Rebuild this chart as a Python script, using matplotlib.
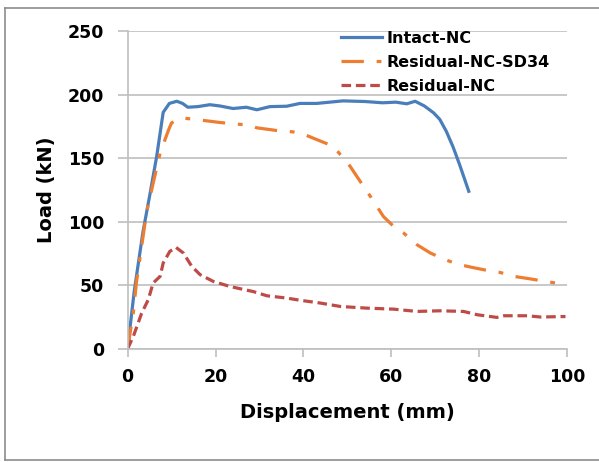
import matplotlib
matplotlib.use("Agg")
import matplotlib.pyplot as plt
from matplotlib.lines import Line2D

# load-displacement curves (mm, kN)
intact_x = [0, 1.5, 3.5, 5.0, 6.6, 8.1, 9.5, 11.2, 12.5, 13.7, 16, 18.7, 21, 24, 27, 29.4,
            32.4, 36.2, 39.2, 43, 49, 54, 58, 61, 63.5, 65.4, 67.5, 69.6, 71.0, 72.5,
            74.0, 75.5, 77.6]
intact_y = [0, 45, 92, 120, 151, 186, 193, 194.7, 193, 190, 190.5, 192, 191, 189, 190, 188,
            190.5, 190.8, 193, 193, 195, 194.5, 193.5, 194, 192.7, 194.7, 191, 185.6, 180.5, 171,
            159, 145, 123.9]

sd34_x = [0, 1.3, 2, 4.3, 5.8, 7.4, 9.3, 10, 12.3, 15.7, 21, 27.9, 29.4, 33.9, 37.7, 39.3,
          43, 46.8, 50.6, 52.9, 55.2, 58.2, 60.5, 62.8, 65.8, 68.9, 71.9, 74.9, 78, 81,
          84.8, 87.8, 91.6, 95, 98.4, 100]
sd34_y = [0, 28, 52, 107, 130, 154, 172, 177.7, 181.6, 180.3, 178, 175.8, 173.8, 171.7, 170.6, 169.8,
          164.6, 159.3, 143.6, 131.7, 120, 104, 96.3, 91, 81.9, 75.3, 70.6, 66.7, 64.3, 62.2,
          60, 57, 55, 53, 51.2, 50.5]

resid_x = [0, 1.3, 3.2, 4.7, 5.8, 7.4, 8.1, 9.6, 11, 12.7, 14.6, 16.5, 19.5, 23.3, 28.6, 31.7,
           36.2, 39.2, 43.8, 48.4, 54.4, 60.5, 65.8, 71.1, 76.4, 79.5, 84, 85.6, 90.9, 93.9, 99.6]
resid_y = [0, 9.7, 28, 38.6, 51.7, 57, 67.5, 76.6, 79.8, 75.3, 64.8, 58.3, 53, 49, 45, 41.7,
           39.9, 38.2, 36, 33.3, 32, 31.2, 29.4, 29.9, 29.4, 26.8, 24.7, 26, 26, 25, 25.4]

labels = ["Intact-NC", "Residual-NC-SD34", "Residual-NC"]
x_ticks = [0, 20, 40, 60, 80, 100]
y_ticks = [0, 50, 100, 150, 200, 250]

plt.rcParams['font.family'] = ['DejaVu Sans']

fig = plt.figure(figsize=(5.99, 4.62), dpi=100)
ax = fig.add_axes([0.213, 0.245, 0.734, 0.688])

ax.plot(intact_x, intact_y, '-', color='#4a7ebb', lw=2.3, label=labels[0])
ax.plot(sd34_x, sd34_y, color='#ed7d31', lw=2.3, dashes=(7, 4, 1.5, 4), label=labels[1])
ax.plot(resid_x, resid_y, color='#be4b48', lw=2.3, dashes=(3, 1.5), label=labels[2])

ax.set_xlim(0, 100)
ax.set_ylim(0, 250)
ax.set_xticks(x_ticks)
ax.set_yticks(y_ticks)
ax.grid(axis='y', color='#bfbfbf', lw=1.2)
ax.set_axisbelow(True)
for s in ['top', 'right']:
    ax.spines[s].set_visible(False)
for s in ['left', 'bottom']:
    ax.spines[s].set_color('#bfbfbf')
    ax.spines[s].set_linewidth(1.2)
ax.tick_params(axis='x', length=6, width=1.2, color='#bfbfbf', pad=8)
ax.tick_params(axis='y', length=7, width=1.2, color='#bfbfbf', pad=10)
for t in ax.get_xticklabels() + ax.get_yticklabels():
    t.set_fontsize(12.5)
    t.set_fontweight('bold')

ax.set_xlabel('Displacement (mm)', fontsize=14, fontweight='bold', labelpad=12)
ax.set_ylabel('Load (kN)', fontsize=14, fontweight='bold', labelpad=8)

leg = ax.legend(loc='upper left', bbox_to_anchor=(0.47, 1.02), frameon=False,
                prop={'size': 11.5, 'weight': 'bold'}, handlelength=2.6,
                handletextpad=0.25, labelspacing=0.55, borderaxespad=0)

# outer chart frame: left, top and bottom edges
x0, y0, y1 = 4.5 / 599, 1 - 459.5 / 462, 1 - 8 / 462
for xs, ys in [([x0, x0], [y0, y1]), ([x0, 1.0], [y1, y1]), ([x0, 1.0], [y0, y0])]:
    fig.add_artist(Line2D(xs, ys, transform=fig.transFigure, color='#8c8c8c', lw=1.2))

fig.savefig('out.png', dpi=100)
